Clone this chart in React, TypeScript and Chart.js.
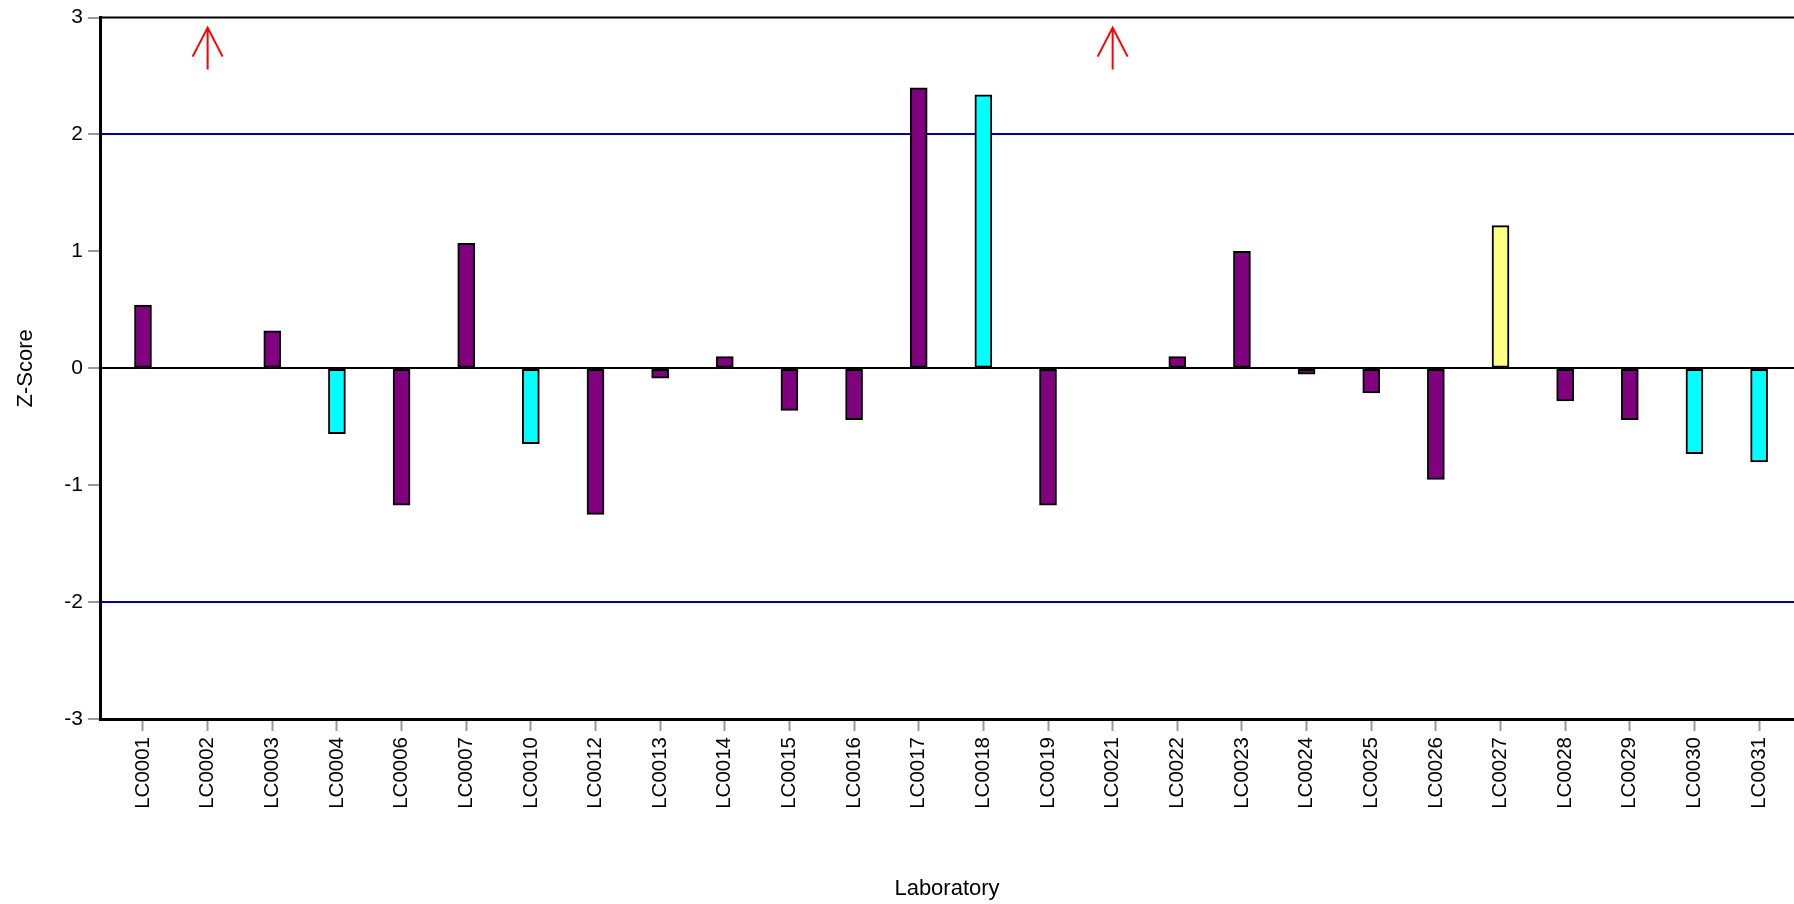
import React, { useEffect, useRef } from "react";
import { Chart, registerables } from "chart.js";

Chart.register(...registerables);

const labs = ["LC0001", "LC0002", "LC0003", "LC0004", "LC0006", "LC0007", "LC0010", "LC0012", "LC0013", "LC0014", "LC0015", "LC0016", "LC0017", "LC0018", "LC0019", "LC0021", "LC0022", "LC0023", "LC0024", "LC0025", "LC0026", "LC0027", "LC0028", "LC0029", "LC0030", "LC0031"];
const zScores: (number | null)[] = [0.54, null, 0.32, -0.56, -1.17, 1.07, -0.645, -1.25, -0.085, 0.1, -0.36, -0.44, 2.4, 2.34, -1.17, null, 0.1, 1.0, -0.05, -0.21, -0.95, 1.22, -0.28, -0.44, -0.73, -0.8];
const groups = ["A", "A", "A", "B", "A", "A", "B", "A", "A", "A", "A", "A", "A", "B", "A", "A", "A", "A", "A", "A", "A", "C", "A", "A", "B", "B"];
const offScaleLabs = ["LC0002", "LC0021"];
const yTicks = [-3, -2, -1, 0, 1, 2, 3];
const limitLines = [-2, 2];

const groupColors: Record<string, string> = { A: "#800080", B: "#00FFFF", C: "#FFFF80" };
const FONT = "'Liberation Sans', Arial, sans-serif";

const decorPlugin = {
  id: "decor",
  afterDatasetsDraw(chart: any) {
    const { ctx, chartArea, scales } = chart;
    ctx.save();
    ctx.strokeStyle = "#000";
    ctx.lineWidth = 2;
    ctx.beginPath();
    ctx.moveTo(chartArea.left, chartArea.top);
    ctx.lineTo(chartArea.right, chartArea.top);
    ctx.stroke();
    ctx.strokeStyle = "#ff0000";
    ctx.lineWidth = 2;
    offScaleLabs.forEach((l) => {
      const i = labs.indexOf(l);
      const x = scales.x.getPixelForValue(i);
      const tip = chartArea.top + 10;
      const base = chartArea.top + 52;
      const headY = chartArea.top + 39;
      ctx.beginPath();
      ctx.moveTo(x, base);
      ctx.lineTo(x, tip);
      ctx.moveTo(x - 15, headY);
      ctx.lineTo(x, tip);
      ctx.lineTo(x + 15, headY);
      ctx.stroke();
    });
    ctx.restore();
  },
};

export default function App() {
  const ref = useRef<HTMLCanvasElement>(null);
  useEffect(() => {
    const points = labs.map((_, i) => ({ x: i, y: zScores[i] }));
    const chart = new Chart(ref.current!, {
      type: "bar",
      data: {
        datasets: [
          {
            data: points as any,
            backgroundColor: groups.map((g) => groupColors[g]),
            borderColor: "#000",
            borderWidth: 2,
            borderSkipped: false,
            barThickness: 17,
          },
        ],
      },
      options: {
        animation: false,
        responsive: true,
        maintainAspectRatio: false,
        layout: { padding: { top: 15, left: 0, right: 0, bottom: 0 } },
        plugins: { legend: { display: false }, tooltip: { enabled: false } },
        scales: {
          x: {
            type: "linear",
            offset: false,
            min: -0.665,
            max: 25.54,
            afterBuildTicks: (s: any) => {
              s.ticks = labs.map((_, i) => ({ value: i }));
            },
            afterFit: (s: any) => {
              s.height = 185;
            },
            ticks: {
              autoSkip: false,
              maxRotation: 90,
              minRotation: 90,
              padding: 6,
              color: "#000",
              font: { family: FONT, size: 20.5 },
              callback: (v: any) => labs[v as number] ?? "",
            },
            grid: {
              offset: false,
              drawOnChartArea: false,
              drawTicks: true,
              tickLength: 12,
              tickColor: "#999",
              tickWidth: 2,
            },
            border: { display: true, color: "#000", width: 3 },
            title: {
              display: true,
              text: "Laboratory",
              color: "#000",
              font: { family: FONT, size: 22 },
              padding: { top: 0, bottom: 2 },
            },
          },
          y: {
            min: -3,
            max: 3,
            afterBuildTicks: (s: any) => {
              s.ticks = yTicks.map((v) => ({ value: v }));
            },
            afterFit: (s: any) => {
              s.width = 100;
            },
            ticks: {
              padding: 5,
              color: "#000",
              font: { family: FONT, size: 21 },
            },
            grid: {
              drawOnChartArea: true,
              drawTicks: true,
              tickLength: 12,
              tickColor: "#999",
              tickWidth: 2,
              lineWidth: 2,
              color: (c: any) => {
                const v = c.tick ? c.tick.value : null;
                if (v === 0) return "#000";
                if (limitLines.includes(v)) return "#0000A8";
                return "rgba(0,0,0,0)";
              },
            },
            border: { display: true, color: "#000", width: 3 },
            title: {
              display: true,
              text: "Z-Score",
              color: "#000",
              font: { family: FONT, size: 22 },
              padding: { top: 13, bottom: 0 },
            },
          },
        },
      },
      plugins: [decorPlugin],
    });
    return () => chart.destroy();
  }, []);
  return (
    <div style={{ position: "fixed", left: 0, top: 0, width: 1794, height: 904, background: "#fff" }}>
      <canvas ref={ref} />
    </div>
  );
}
